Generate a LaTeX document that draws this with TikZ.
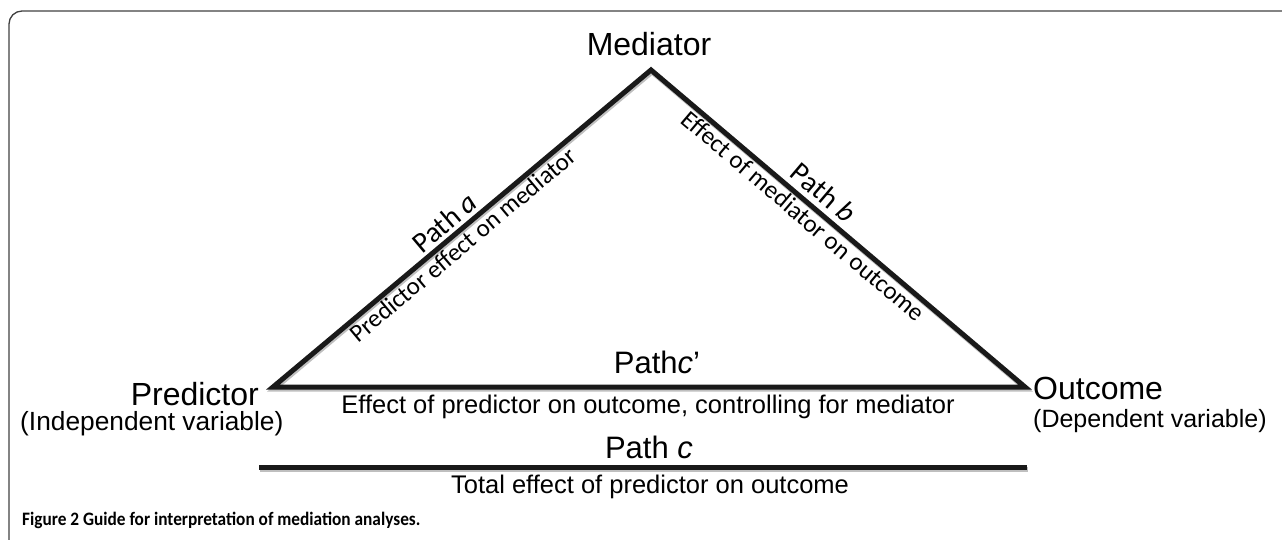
\documentclass[tikz,border=0pt]{standalone}
\usepackage{fontspec}
\setmainfont{Liberation Sans}
\newfontfamily\calfont{Carlito}
\newfontfamily\capfont{Carlito}[FakeStretch=0.91]
\usetikzlibrary{calc}
\tikzset{
  big/.style={font=\fontsize{32}{38}\selectfont, inner sep=0pt},
  mid/.style={font=\fontsize{31}{36}\selectfont, inner sep=0pt},
  small/.style={font=\fontsize{25.5}{30}\selectfont, inner sep=0pt},
  pathlbl/.style={font=\calfont\fontsize{29}{34}\selectfont, inner sep=0pt},
  effectlbl/.style={font=\calfont\fontsize{25}{30}\selectfont, inner sep=0pt},
  edge/.style={line width=5pt, black!90},
  shade/.style={line width=5pt, black!25},
  frame/.style={line width=1.3pt, black!75, rounded corners=13pt},
}
\begin{document}
\begin{tikzpicture}[x=1pt,y=-1pt]
\useasboundingbox (0,0) rectangle (1282,540);
% frame
\draw[frame] (9,545) -- (9,11) -- (1290,11);
% vertices
\coordinate (A) at (651,70);
\coordinate (L) at (273,387);
\coordinate (R) at (1025,387);
\coordinate (B1) at (259,467);
\coordinate (B2) at (1027,467);
% shadows
\draw[shade, line join=miter] ([shift={(1,2)}]L) -- ([shift={(1,2)}]A) -- ([shift={(1,2)}]R) -- cycle;
\draw[shade] ([shift={(1,2)}]B1) -- ([shift={(1,2)}]B2);
% lines
\draw[edge, line join=miter] (L) -- (A) -- (R) -- cycle;
\draw[edge] (B1) -- (B2);
% label anchor points on the sides
\coordinate (la) at ($(L)!0.48!(A)$);
\coordinate (lb) at ($(A)!0.43!(R)$);
\node[pathlbl, rotate=40, anchor=south] (pa) at ($(la)+(-0.643*5.5,-0.766*5.5)$) {Path \textit{a}};
\node[effectlbl, rotate=40, anchor=north] (ea) at ($(la)+(0.643*4,0.766*4)$) {Predictor effect on mediator};
\node[pathlbl, rotate=-40.3, anchor=south] (pb) at ($(lb)+(0.647*8,-0.763*8)$) {Path \textit{b}};
\node[effectlbl, rotate=-40.3, anchor=north] (eb) at ($(lb)+(-0.647*4,0.763*4)$) {Effect of mediator on outcome};
% vertex texts
\node[big, anchor=base] (med) at (649,56) {Mediator};
\node[big, anchor=base east] (pred) at (259,405) {Predictor};
\node[small, anchor=base west, font=\fontsize{26.3}{31}\selectfont] (indep) at (20,430) {(Independent variable)};
\node[big, anchor=base west] (out) at (1033,399) {Outcome};
\node[small, anchor=base west, font=\fontsize{25}{30}\selectfont] (dep) at (1033,427) {(Dependent variable)};
% bottom texts
\node[mid, anchor=base] (pc1) at (657,373) {Path\textit{c}’};
\node[small, anchor=base] (ec1) at (648,413) {Effect of predictor on outcome, controlling for mediator};
\node[mid, anchor=base] (pc) at (649,458) {Path \textit{c}};
\node[small, anchor=base] (ec) at (650,493) {Total effect of predictor on outcome};
% caption
\node[anchor=base west, inner sep=0pt, font=\capfont\bfseries\fontsize{19}{23}\selectfont] (cap) at (22,525) {Figure 2 Guide for interpretation of mediation analyses.};
\end{tikzpicture}
\end{document}
